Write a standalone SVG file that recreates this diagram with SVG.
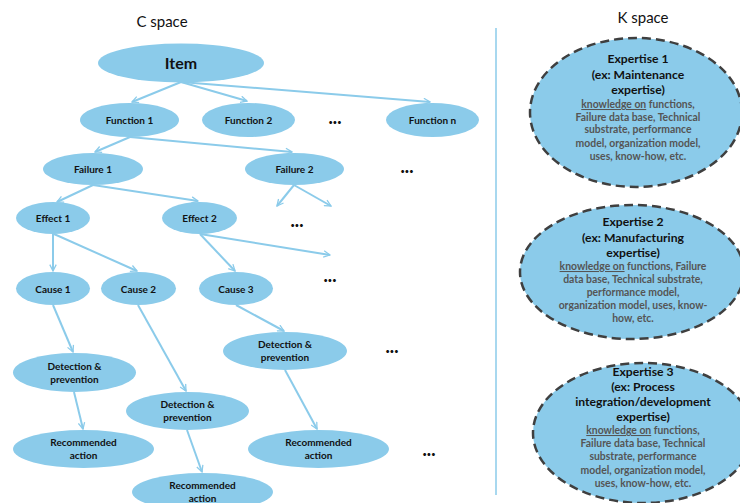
<svg xmlns="http://www.w3.org/2000/svg" width="740" height="503" viewBox="0 0 740 503">
<style>
.n{fill:#8BCBEA;}
.t{font-family:"Lato","Open Sans","Liberation Sans",sans-serif;font-weight:bold;fill:#111;text-anchor:middle;font-size:10px;}
.ti{font-size:16px;}
.h{font-family:"Lato","Open Sans","Liberation Sans",sans-serif;font-size:15px;fill:#111;text-anchor:middle;}
.c{stroke:#8BCBEA;stroke-width:2;fill:none;marker-end:url(#a);}
.k{fill:#8BCBEA;stroke:#3f3f3f;stroke-width:2.5;stroke-dasharray:9 5;}
.kh{font-family:"Lato","Open Sans","Liberation Sans",sans-serif;font-weight:bold;font-size:12.2px;fill:#111;text-anchor:middle;}
.kb{font-family:"Lato","Open Sans","Liberation Sans",sans-serif;font-weight:bold;font-size:10.4px;fill:#555;text-anchor:middle;}
.d{font-family:"Lato","Open Sans","Liberation Sans",sans-serif;font-weight:900;font-size:18px;fill:#111;text-anchor:middle;}
</style>
<defs>
<marker id="a" viewBox="0 0 10 10" refX="9" refY="5" markerWidth="8" markerHeight="8" orient="auto" markerUnits="userSpaceOnUse">
<path d="M1,1 L9,5 L1,9" fill="none" stroke="#8BCBEA" stroke-width="1.6"/>
</marker>
</defs>
<rect width="740" height="503" fill="#fff"/>
<text class="h" x="162" y="27">C space</text>
<text class="h" x="643" y="23">K space</text>
<line x1="496" y1="28" x2="496" y2="495" stroke="#8BCBEA" stroke-width="1.5"/>

<g id="connectors">
<path class="c" d="M181,82 L132,102"/>
<path class="c" d="M181,82 L247,101"/>
<path class="c" d="M181,82 L430,102"/>
<path class="c" d="M130,137 L95,152"/>
<path class="c" d="M130,137 L292,152"/>
<path class="c" d="M294,185 L277,206"/>
<path class="c" d="M294,185 L331,206"/>
<path class="c" d="M93,185 L57,202"/>
<path class="c" d="M93,185 L198,201"/>
<path class="c" d="M53,234 L53,271"/>
<path class="c" d="M54,234 L137,271"/>
<path class="c" d="M200,234 L235,271"/>
<path class="c" d="M200,234 L330,255"/>
<path class="c" d="M53,305 L73,352"/>
<path class="c" d="M138,305 L186,391"/>
<path class="c" d="M236,305 L284,331"/>
<path class="c" d="M74,392 L83,429"/>
<path class="c" d="M187,430 L202,472"/>
<path class="c" d="M285,370 L317,429"/>
</g>

<g id="item"><ellipse class="n" cx="181" cy="63" rx="83" ry="19.5"/><text class="t ti" x="181" y="69">Item</text></g>
<g id="function1"><ellipse class="n" cx="129.5" cy="120" rx="49.5" ry="17"/><text class="t" x="129.5" y="124">Function 1</text></g>
<g id="function2"><ellipse class="n" cx="248.5" cy="120" rx="46.5" ry="17"/><text class="t" x="248.5" y="124">Function 2</text></g>
<g id="functionn"><ellipse class="n" cx="432.5" cy="120" rx="46.5" ry="17"/><text class="t" x="432.5" y="124">Function n</text></g>
<g id="failure1"><ellipse class="n" cx="93" cy="169" rx="50" ry="16"/><text class="t" x="93" y="173">Failure 1</text></g>
<g id="failure2"><ellipse class="n" cx="294.5" cy="169" rx="49.5" ry="16"/><text class="t" x="294.5" y="173">Failure 2</text></g>
<g id="effect1"><ellipse class="n" cx="53" cy="218" rx="37" ry="16"/><text class="t" x="53" y="222">Effect 1</text></g>
<g id="effect2"><ellipse class="n" cx="199.5" cy="218" rx="37.5" ry="16"/><text class="t" x="199.5" y="222">Effect 2</text></g>
<g id="cause1"><ellipse class="n" cx="53" cy="288.5" rx="37" ry="16.5"/><text class="t" x="53" y="292.5">Cause 1</text></g>
<g id="cause2"><ellipse class="n" cx="138.5" cy="288.5" rx="37.5" ry="16.5"/><text class="t" x="138.5" y="292.5">Cause 2</text></g>
<g id="cause3"><ellipse class="n" cx="236" cy="288.5" rx="37" ry="16.5"/><text class="t" x="236" y="292.5">Cause 3</text></g>
<g id="detection1"><ellipse class="n" cx="74.5" cy="372.5" rx="61.5" ry="19.5"/><text class="t" x="74.5" y="370">Detection &amp;</text><text class="t" x="74.5" y="383">prevention</text></g>
<g id="detection2"><ellipse class="n" cx="187.5" cy="411" rx="61.5" ry="19"/><text class="t" x="187.5" y="408">Detection &amp;</text><text class="t" x="187.5" y="421">prevention</text></g>
<g id="detection3"><ellipse class="n" cx="285" cy="351" rx="62" ry="19"/><text class="t" x="285" y="348">Detection &amp;</text><text class="t" x="285" y="361">prevention</text></g>
<g id="recommended1"><ellipse class="n" cx="83.5" cy="449" rx="70.5" ry="19"/><text class="t" x="83.5" y="446">Recommended</text><text class="t" x="83.5" y="459">action</text></g>
<g id="recommended2"><ellipse class="n" cx="202.5" cy="492" rx="70.5" ry="19"/><text class="t" x="202.5" y="489">Recommended</text><text class="t" x="202.5" y="502">action</text></g>
<g id="recommended3"><ellipse class="n" cx="318.5" cy="449" rx="70.5" ry="19"/><text class="t" x="318.5" y="446">Recommended</text><text class="t" x="318.5" y="459">action</text></g>

<g id="dots">
<text class="d" x="335" y="124">...</text>
<text class="d" x="407" y="173">...</text>
<text class="d" x="297" y="227">...</text>
<text class="d" x="330" y="282">...</text>
<text class="d" x="392" y="353">...</text>
<text class="d" x="429" y="456">...</text>
</g>

<g id="expertise1">
<ellipse class="k" cx="636" cy="112.5" rx="106" ry="74.5"/>
<text class="kh" x="638" y="63">Expertise 1</text>
<text class="kh" x="638" y="79">(ex: Maintenance</text>
<text class="kh" x="638" y="94">expertise)</text>
<text class="kb" x="638" y="108"><tspan text-decoration="underline">knowledge on</tspan> functions,</text>
<text class="kb" x="638" y="121">Failure data base, Technical</text>
<text class="kb" x="638" y="133">substrate, performance</text>
<text class="kb" x="638" y="147">model, organization model,</text>
<text class="kb" x="638" y="160">uses, know-how, etc.</text>
</g>
<g id="expertise2">
<ellipse class="k" cx="632" cy="272" rx="112" ry="67"/>
<text class="kh" x="633" y="226">Expertise 2</text>
<text class="kh" x="633" y="242">(ex: Manufacturing</text>
<text class="kh" x="633" y="257">expertise)</text>
<text class="kb" x="633" y="270"><tspan text-decoration="underline">knowledge on</tspan> functions, Failure</text>
<text class="kb" x="633" y="283">data base, Technical substrate,</text>
<text class="kb" x="633" y="296">performance model,</text>
<text class="kb" x="633" y="309">organization model, uses, know-</text>
<text class="kb" x="633" y="322">how, etc.</text>
</g>
<g id="expertise3">
<ellipse class="k" cx="643" cy="433" rx="110" ry="70"/>
<text class="kh" x="643" y="376">Expertise 3</text>
<text class="kh" x="643" y="391">(ex: Process</text>
<text class="kh" x="643" y="406">integration/development</text>
<text class="kh" x="643" y="421">expertise)</text>
<text class="kb" x="643" y="434"><tspan text-decoration="underline">knowledge on</tspan> functions,</text>
<text class="kb" x="643" y="447">Failure data base, Technical</text>
<text class="kb" x="643" y="460">substrate, performance</text>
<text class="kb" x="643" y="474">model, organization model,</text>
<text class="kb" x="643" y="487">uses, know-how, etc.</text>
</g>
</svg>
